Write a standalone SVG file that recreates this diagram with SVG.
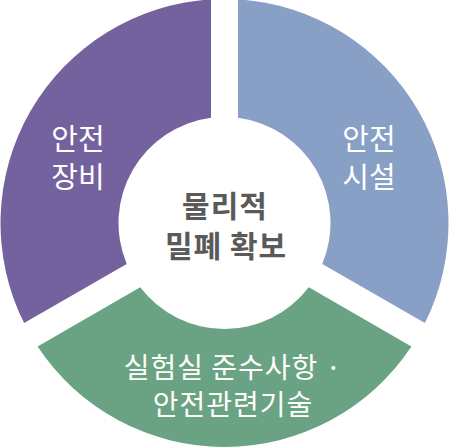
<svg xmlns="http://www.w3.org/2000/svg" width="449" height="447" viewBox="0 0 449 447">
<style>
.lbl{font-family:"Noto Sans CJK KR","Noto Sans",sans-serif;font-size:29px;fill:#ffffff;text-anchor:middle}
.lbl2{font-family:"Noto Sans CJK KR","Noto Sans",sans-serif;font-size:28px;letter-spacing:1px;fill:#ffffff;text-anchor:middle}
.ctr{font-family:"Noto Sans CJK KR","Noto Sans",sans-serif;font-size:30px;letter-spacing:1px;font-weight:bold;fill:#5a5a5a;text-anchor:middle}
</style>
<rect width="449" height="447" fill="#ffffff"/>
<g id="seg-equipment">
<path d="M211,-0.59 A224,224 0 0 0 24.12,323.11 L126.7,263.88 A106,106 0 0 1 211,117.86 Z" fill="#74629e"/>
<text class="lbl" x="78" y="150">안전<tspan x="78" dy="38">장비</tspan></text>
</g>
<g id="seg-facility">
<path d="M238,-0.59 A224,224 0 0 1 424.88,323.11 L322.3,263.88 A106,106 0 0 0 238,117.86 Z" fill="#889fc6"/>
<text class="lbl" x="369" y="150">안전<tspan x="369" dy="38">시설</tspan></text>
</g>
<g id="seg-rules">
<path d="M37.62,346.49 A224,224 0 0 0 411.38,346.49 L308.8,287.26 A106,106 0 0 1 140.2,287.26 Z" fill="#6aa383"/>
<text class="lbl2" x="233" y="378">실험실 준수사항 ·<tspan x="233" dy="37">안전관련기술</tspan></text>
</g>
<g id="center">
<text class="ctr" x="225" y="217">물리적<tspan x="226" dy="40">밀폐 확보</tspan></text>
</g>
<g id="connectors"/>
</svg>
